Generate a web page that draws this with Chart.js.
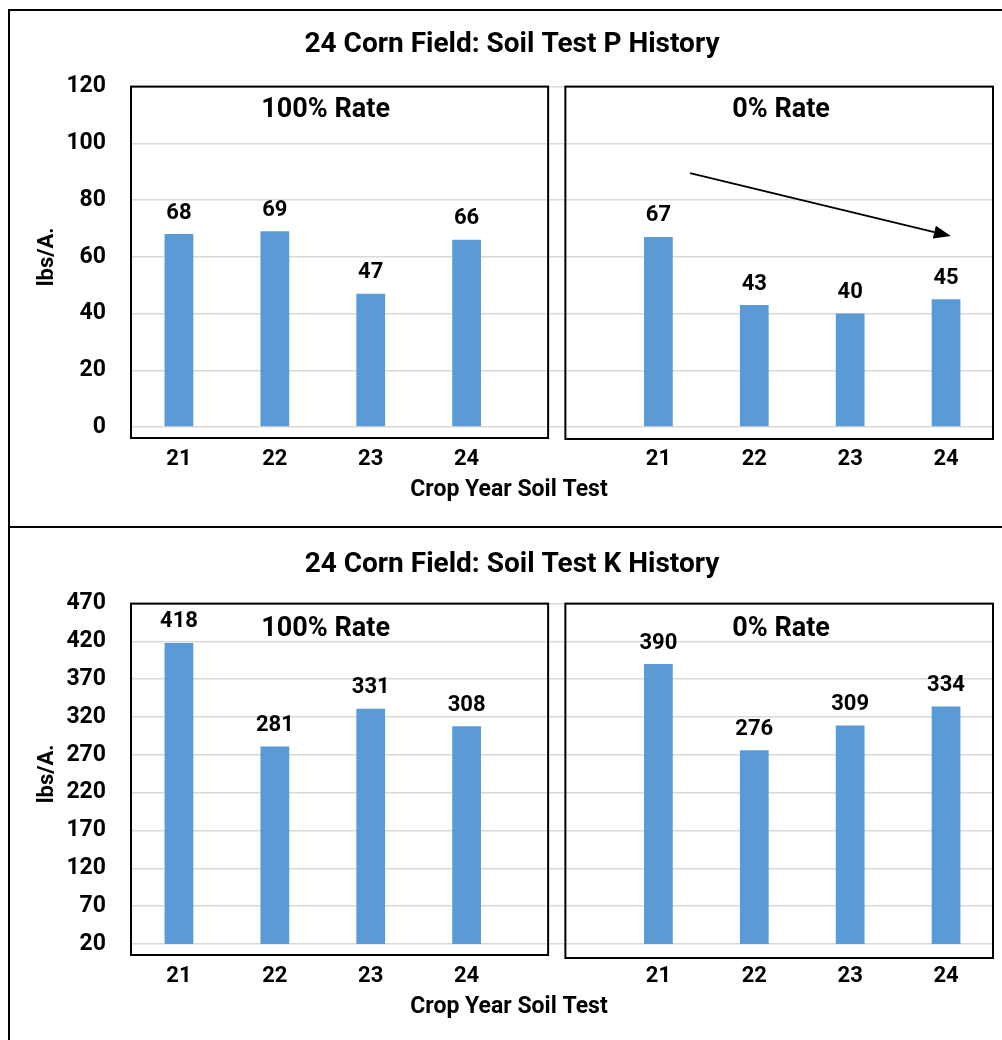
<!DOCTYPE html>
<html lang="en">
<head>
    <meta charset="UTF-8">
    <title>24 Corn Field: Soil Test History</title>
    <script src="https://cdn.jsdelivr.net/npm/chart.js"></script>
    <style>
        body {
            margin: 0;
            background: #ffffff;
            font-family: Roboto, sans-serif;
        }
        .page {
            position: relative;
            width: 1002px;
            height: 1040px;
            overflow: hidden;
        }
        .box {
            position: absolute;
            left: 0;
            width: 1002px;
        }
        .line-h {
            position: absolute;
            left: 8px;
            right: 0;
            height: 2px;
            background: #000;
        }
        .line-v {
            position: absolute;
            left: 8px;
            width: 2px;
            background: #000;
        }
    </style>
</head>
<body>
    <div class="page">
        <div class="box" style="top:0; height:527px;">
            <canvas id="pChart"></canvas>
        </div>
        <div class="box" style="top:528px; height:512px;">
            <canvas id="kChart"></canvas>
        </div>
        <!-- outer frame lines -->
        <div class="line-h" style="top:9px;"></div>
        <div class="line-h" style="top:526px;"></div>
        <div class="line-v" style="top:9px; height:1031px;"></div>
    </div>

    <script>
        // categories (index 4 is the gap between the two panels)
        const years = ['21', '22', '23', '24'];
        const categories = [...years, '', ...years];

        // soil test P, lbs/A.
        const p100 = [68, 69, 47, 66];
        const p0 = [67, 43, 40, 45];

        // soil test K, lbs/A.
        const k100 = [418, 281, 331, 308];
        const k0 = [390, 276, 309, 334];

        const panelNames = ['100% Rate', '0% Rate'];

        const pTicks = { min: 0, max: 120, step: 20 };
        const kTicks = { min: 20, max: 470, step: 50 };

        const barColor = '#5B9BD5';
        const font = 'Roboto';

        // panels, in category units: [from, to]
        const panelSpan = [[-0.5, 3.85], [4.03, 8.49]];
        const panelLabelAt = [1.53, 6.28];

        const panelPlugin = {
            id: 'panels',
            afterDatasetsDraw(chart, args, opts) {
                const ctx = chart.ctx;
                const x = chart.scales.x;
                const area = chart.chartArea;
                ctx.save();

                // panel frames
                ctx.strokeStyle = '#000';
                ctx.lineWidth = 2;
                panelSpan.forEach((s, i) => {
                    const x1 = Math.max(x.getPixelForValue(s[0]), area.left);
                    const x2 = Math.min(x.getPixelForValue(s[1]), area.right - 1);
                    ctx.strokeRect(x1, area.top, x2 - x1, area.bottom - area.top + opts.below[i]);
                });

                // panel labels
                ctx.fillStyle = '#000';
                ctx.font = 'bold 27px ' + font;
                ctx.textAlign = 'center';
                ctx.textBaseline = 'middle';
                panelNames.forEach((name, i) => {
                    ctx.fillText(name, x.getPixelForValue(panelLabelAt[i]), area.top + opts.labelTop);
                });

                // value labels above bars
                ctx.font = 'bold 22px ' + font;
                const meta = chart.getDatasetMeta(0);
                meta.data.forEach((bar, i) => {
                    const v = chart.data.datasets[0].data[i];
                    if (v === null) return;
                    ctx.fillText(String(v), bar.x, bar.y - 21);
                });

                // x axis title, centred on the whole figure
                ctx.font = 'bold 23px ' + font;
                ctx.fillText('Crop Year Soil Test', opts.xTitle[0], opts.xTitle[1]);

                // trend arrow
                if (opts.arrow) {
                    const y = chart.scales.y;
                    const a = opts.arrow;
                    const x1 = x.getPixelForValue(a[0]), y1 = y.getPixelForValue(a[1]);
                    const x2 = x.getPixelForValue(a[2]), y2 = y.getPixelForValue(a[3]);
                    const ang = Math.atan2(y2 - y1, x2 - x1);
                    const head = 17, half = 6.5;
                    const bx = x2 - head * Math.cos(ang), by = y2 - head * Math.sin(ang);
                    ctx.strokeStyle = '#000';
                    ctx.lineWidth = 2;
                    ctx.beginPath();
                    ctx.moveTo(x1, y1);
                    ctx.lineTo(bx, by);
                    ctx.stroke();
                    ctx.beginPath();
                    ctx.moveTo(x2, y2);
                    ctx.lineTo(bx + half * Math.sin(ang), by - half * Math.cos(ang));
                    ctx.lineTo(bx - half * Math.sin(ang), by + half * Math.cos(ang));
                    ctx.closePath();
                    ctx.fill();
                }
                ctx.restore();
            }
        };

        function makeChart(id, title, values, ticks, cfg) {
            const ctx = document.getElementById(id).getContext('2d');
            return new Chart(ctx, {
                type: 'bar',
                data: {
                    labels: categories,
                    datasets: [{
                        data: values,
                        backgroundColor: barColor,
                        borderWidth: 0,
                        barPercentage: 0.3,
                        categoryPercentage: 1
                    }]
                },
                options: {
                    responsive: true,
                    maintainAspectRatio: false,
                    animation: false,
                    layout: {
                        padding: { left: 30, right: 8, top: 0, bottom: 0 }
                    },
                    plugins: {
                        legend: { display: false },
                        tooltip: { enabled: false },
                        title: {
                            display: true,
                            text: title,
                            color: '#000',
                            font: { family: font, size: 28, weight: 'bold' },
                            padding: cfg.titlePad
                        },
                        panels: cfg.panels
                    },
                    scales: {
                        x: {
                            grid: { display: false, drawTicks: false },
                            border: { display: false },
                            ticks: {
                                color: '#000',
                                padding: 19,
                                font: { family: font, size: 22, weight: 'bold' }
                            },
                            afterFit(scale) { scale.height = cfg.xHeight; }
                        },
                        y: {
                            min: ticks.min,
                            max: ticks.max,
                            grid: { color: '#d9d9d9', lineWidth: 1.5, drawTicks: false },
                            border: { display: false },
                            ticks: {
                                stepSize: ticks.step,
                                color: '#000',
                                padding: 25,
                                font: { family: font, size: 23, weight: 'bold' }
                            },
                            title: {
                                display: true,
                                text: 'lbs/A.',
                                color: '#000',
                                padding: { top: 4, bottom: 0 },
                                font: { family: font, size: 22, weight: 'bold' }
                            },
                            afterFit(scale) { scale.width = 101; }
                        }
                    }
                },
                plugins: [panelPlugin]
            });
        }

        makeChart('pChart', '24 Corn Field: Soil Test P History', [...p100, null, ...p0], pTicks, {
            titlePad: { top: 28, bottom: 25 },
            xHeight: 100,
            panels: { below: [11, 12], labelTop: 24, xTitle: [509, 490], arrow: [5.33, 89.5, 8.05, 67.3] }
        });

        makeChart('kChart', '24 Corn Field: Soil Test K History', [...k100, null, ...k0], kTicks, {
            titlePad: { top: 20, bottom: 22 },
            xHeight: 96,
            panels: { below: [11, 14], labelTop: 26, xTitle: [509, 479], arrow: null }
        });
    </script>
</body>
</html>
